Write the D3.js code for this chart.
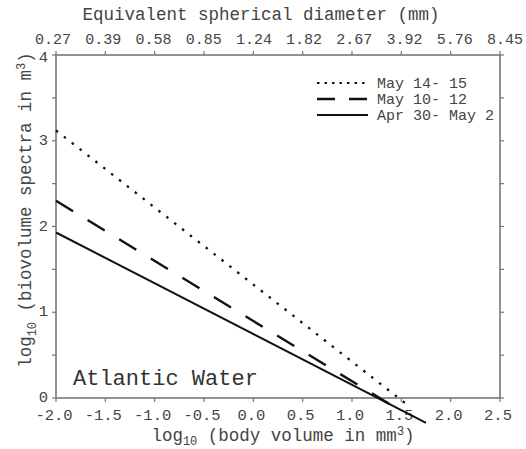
<!DOCTYPE html>
<html>
<head>
<meta charset="utf-8">
<script src="https://cdn.jsdelivr.net/npm/d3@7"></script>
<style>
  body { margin: 0; background: #fff; }
  text { font-family: "Liberation Mono", "DejaVu Sans Mono", monospace; fill: #444; }
</style>
</head>
<body>
<svg id="chart" width="526" height="449"></svg>
<script>
// fitted spectra lines, endpoints
let seriesNames = ["May 14- 15", "May 10- 12", "Apr 30- May 2"];
let dottedX = [-2.0, 1.55];
let dottedY = [3.12, -0.07];
let dashedX = [-2.0, 1.45];
let dashedY = [2.30, -0.12];
let solidX = [-2.0, 1.75];
let solidY = [1.93, -0.29];

let xTicks = [-2.0, -1.5, -1.0, -0.5, 0.0, 0.5, 1.0, 1.5, 2.0, 2.5];
let topLabels = ["0.27", "0.39", "0.58", "0.85", "1.24", "1.82", "2.67", "3.92", "5.76", "8.45"];
let yTicks = [0, 1, 2, 3, 4];
let yMinor = [0, 0.5, 1, 1.5, 2, 2.5, 3, 3.5, 4];

let svg = d3.select("#chart");
let pLeft = 56, pRight = 500, pTop = 55, pBottom = 398;

let x = d3.scaleLinear().domain([-2.0, 2.5]).range([pLeft, pRight]);
let y = d3.scaleLinear().domain([0, 4]).range([pBottom, pTop]);
// top labels sit a little wider apart than the ticks
let xTop = d3.scaleLinear().domain([0, topLabels.length - 1]).range([53, 505]);

let axisCol = "#777";

// frame
svg.append("rect")
  .attr("x", pLeft).attr("y", pTop)
  .attr("width", pRight - pLeft).attr("height", pBottom - pTop)
  .attr("fill", "none").attr("stroke", axisCol).attr("stroke-width", 1.6);

// ticks on all four sides, pointing out
let g = svg.append("g").attr("stroke", axisCol).attr("stroke-width", 1.2);
g.selectAll(".tb").data(xTicks).enter().append("line")
  .attr("x1", d => x(d)).attr("x2", d => x(d))
  .attr("y1", pBottom).attr("y2", pBottom + 4);
g.selectAll(".tt").data(xTicks).enter().append("line")
  .attr("x1", d => x(d)).attr("x2", d => x(d))
  .attr("y1", pTop).attr("y2", pTop - 4);
g.selectAll(".tl").data(yMinor).enter().append("line")
  .attr("x1", pLeft).attr("x2", pLeft - 4)
  .attr("y1", d => y(d)).attr("y2", d => y(d));
g.selectAll(".tr").data(yMinor).enter().append("line")
  .attr("x1", pRight).attr("x2", pRight + 4)
  .attr("y1", d => y(d)).attr("y2", d => y(d));

// tick labels
svg.selectAll(".xl").data(xTicks).enter().append("text")
  .attr("x", d => x(d) - 2).attr("y", 420)
  .attr("text-anchor", "middle").style("font-size", "15.5px")
  .text(d => d.toFixed(1));
svg.selectAll(".topl").data(topLabels).enter().append("text")
  .attr("x", (d, i) => xTop(i)).attr("y", 44)
  .attr("text-anchor", "middle").style("font-size", "15px")
  .text(d => d);
svg.selectAll(".yl").data(yTicks).enter().append("text")
  .attr("x", 48).attr("y", d => y(d) + (d == 4 ? 7 : 4))
  .attr("text-anchor", "end").style("font-size", "15.5px")
  .text(d => d);

// axis titles
svg.append("text").attr("x", 261).attr("y", 20)
  .attr("text-anchor", "middle").style("font-size", "17.5px")
  .text("Equivalent spherical diameter (mm)");

let xt = svg.append("text").attr("x", 283).attr("y", 441)
  .attr("text-anchor", "middle").style("font-size", "17.5px");
xt.append("tspan").text("log");
xt.append("tspan").attr("dy", 4).style("font-size", "12px").text("10");
xt.append("tspan").attr("dy", -4).text(" (body volume in mm");
xt.append("tspan").attr("dy", -6).style("font-size", "12px").text("3");
xt.append("tspan").attr("dy", 6).text(")");

let yt = svg.append("text")
  .attr("transform", "translate(31,210) rotate(-90)")
  .attr("text-anchor", "middle").style("font-size", "17.5px");
yt.append("tspan").text("log");
yt.append("tspan").attr("dy", 5).style("font-size", "12px").text("10");
yt.append("tspan").attr("dy", -5).text(" (biovolume spectra in m");
yt.append("tspan").attr("dy", -6).style("font-size", "12px").text("3");
yt.append("tspan").attr("dy", 6).text(")");

svg.append("text").attr("x", 73).attr("y", 385)
  .style("font-size", "22px").style("fill", "#333")
  .text("Atlantic Water");

// lines
let line = d3.line().x(d => x(d[0])).y(d => y(d[1]));
let styles = [
  { xs: dottedX, ys: dottedY, dash: "2.5,7.5", w: 2.3 },
  { xs: dashedX, ys: dashedY, dash: "20,17", w: 2.4 },
  { xs: solidX, ys: solidY, dash: null, w: 2 }
];
styles.forEach(s => {
  svg.append("path")
    .datum(d3.zip(s.xs, s.ys))
    .attr("d", line)
    .attr("fill", "none").attr("stroke", "#111")
    .attr("stroke-width", s.w)
    .attr("stroke-dasharray", s.dash);
});

// legend
let legY = [83, 99, 115];
let legDash = ["2.5,5", "18,14", null];
seriesNames.forEach((name, i) => {
  svg.append("line")
    .attr("x1", 317).attr("x2", 368)
    .attr("y1", legY[i]).attr("y2", legY[i])
    .attr("stroke", "#111").attr("stroke-width", i == 1 ? 2.6 : 2)
    .attr("stroke-dasharray", legDash[i]);
  svg.append("text")
    .attr("x", 377).attr("y", legY[i] + 5)
    .style("font-size", "15px")
    .text(name);
});
</script>
</body>
</html>
